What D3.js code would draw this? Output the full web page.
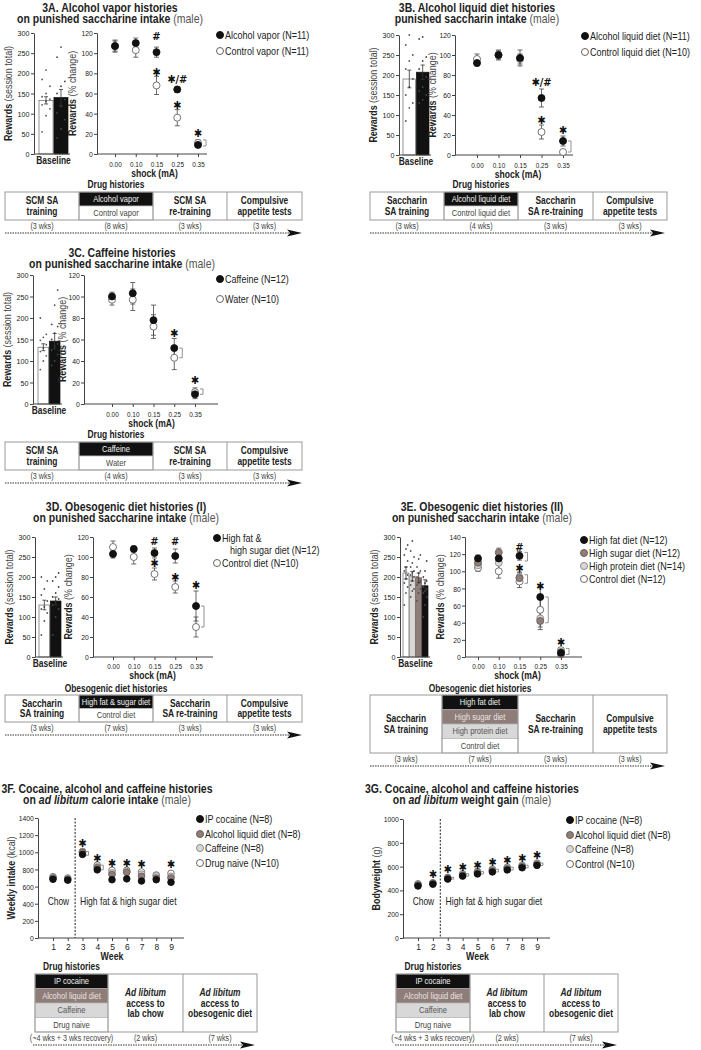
<!DOCTYPE html>
<html>
<head>
<meta charset="utf-8">
<script src="https://cdn.jsdelivr.net/npm/d3@7"></script>
<style>
body { margin: 0; background: #fff; }
text { font-family: "Liberation Sans", Arial, sans-serif; fill: #222; }
</style>
</head>
<body>
<script>
var doses = ["0.00", "0.10", "0.15", "0.25", "0.35"];
var weeks = [1, 2, 3, 4, 5, 6, 7, 8, 9];
var STAR = "\u2731";

// 3A alcohol vapor
var aLegend = ["Alcohol vapor (N=11)", "Control vapor (N=11)"];
var aBase = [133, 140];
var aBaseErr = [9, 20];
var aBaseDots = [[55, 95, 112, 122, 130, 136, 142, 150, 168, 185, 208],
                 [40, 62, 85, 102, 118, 135, 150, 168, 180, 240, 265]];
var aAlcohol = [107, 110, 101, 64, 9];
var aAlcoholErr = [5, 5, 5, 3, 2];
var aControl = [107, 103, 68, 36, 11];
var aControlErr = [6, 7, 9, 8, 3];
var aMarks = [["0.15", 117, "#"], ["0.15", 81, STAR], ["0.25", 74, STAR + "/#"], ["0.25", 49, STAR], ["0.35", 21, STAR]];
var aBrackets = [["0.35", 8, 14]];
var aSteps = [["SCM SA", "training"], ["SCM SA", "re-training"], ["Compulsive", "appetite tests"]];
var aStack = ["Alcohol vapor", "Control vapor"];
var aWeeks = ["(3 wks)", "(8 wks)", "(3 wks)", "(3 wks)"];

// 3B alcohol liquid diet
var bLegend = ["Alcohol liquid diet (N=11)", "Control liquid diet (N=10)"];
var bBase = [190, 207];
var bBaseErr = [22, 18];
var bBaseDots = [[85, 118, 130, 150, 170, 190, 215, 235, 250, 275, 300],
                 [130, 138, 150, 160, 170, 195, 215, 235, 245, 290, 295]];
var bAlcohol = [92, 100, 97, 57, 14];
var bAlcoholErr = [3, 5, 8, 9, 5];
var bControl = [96, 100, 96, 23, 3];
var bControlErr = [5, 4, 5, 7, 2];
var bMarks = [["0.25", 73, STAR + "/#"], ["0.25", 35, STAR], ["0.35", 25, STAR]];
var bBrackets = [["0.35", 3, 14]];
var bSteps = [["Saccharin", "SA training"], ["Saccharin", "SA re-training"], ["Compulsive", "appetite tests"]];
var bStack = ["Alcohol liquid diet", "Control liquid diet"];
var bWeeks = ["(3 wks)", "(4 wks)", "(3 wks)", "(3 wks)"];

// 3C caffeine
var cLegend = ["Caffeine (N=12)", "Water (N=10)"];
var cBase = [132, 146];
var cBaseErr = [8, 18];
var cBaseDots = [[80, 100, 112, 122, 130, 138, 148, 155, 162, 200],
                 [90, 100, 115, 125, 135, 140, 150, 165, 180, 185, 230, 265]];
var cCaffeine = [100, 103, 78, 52, 9];
var cCaffeineErr = [4, 10, 14, 9, 4];
var cWater = [97, 97, 72, 43, 11];
var cWaterErr = [5, 10, 11, 11, 4];
var cMarks = [["0.25", 66, STAR], ["0.35", 22, STAR]];
var cBrackets = [["0.25", 43, 52], ["0.35", 9, 14]];
var cStack = ["Caffeine", "Water"];
var cWeeks = ["(3 wks)", "(4 wks)", "(3 wks)", "(3 wks)"];

// 3D obesogenic diet (I)
var dLegend = ["High fat &\nhigh sugar diet (N=12)", "Control diet (N=10)"];
var dBase = [130, 140];
var dBaseErr = [12, 10];
var dBaseDots = [[55, 90, 110, 120, 125, 140, 155, 170, 190, 200],
                 [55, 100, 120, 130, 140, 145, 150, 160, 175, 190, 200, 210]];
var dHfhs = [103, 108, 104, 101, 51];
var dHfhsErr = [4, 3, 5, 7, 15];
var dControl = [110, 100, 83, 70, 30];
var dControlErr = [6, 7, 6, 6, 10];
var dMarks = [["0.15", 116, "#"], ["0.15", 94, STAR], ["0.25", 116, "#"], ["0.25", 80, STAR], ["0.35", 72, STAR]];
var dBrackets = [["0.35", 30, 51]];
var dStack = ["High fat & sugar diet", "Control diet"];
var dWeeks = ["(3 wks)", "(7 wks)", "(3 wks)", "(3 wks)"];

// 3E obesogenic diet (II)
var eLegend = ["High fat diet (N=12)", "High sugar diet (N=12)", "High protein diet (N=14)", "Control diet (N=12)"];
var eBase = [210, 202, 198, 178];   // control, protein, sugar, fat
var eBaseErr = [15, 12, 12, 15];
var eBaseDots = [[130, 160, 175, 185, 195, 205, 215, 225, 240, 255, 270, 280],
                 [150, 165, 170, 180, 190, 200, 205, 210, 215, 225, 235, 250, 265, 290],
                 [140, 160, 170, 180, 185, 190, 200, 210, 215, 225, 245, 255],
                 [100, 130, 150, 160, 165, 170, 175, 185, 190, 200, 215, 240]];
var eFat = [115, 115, 118, 70, 5];
var eFatErr = [4, 6, 5, 12, 3];
var eSugar = [110, 122, 92, 42, 3];
var eSugarErr = [4, 5, 6, 10, 2];
var eProtein = [107, 110, 93, 45, 6];
var eProteinErr = [4, 8, 6, 10, 3];
var eControl = [104, 100, 88, 55, 8];
var eControlErr = [4, 8, 7, 12, 3];
var eMarks = [["0.15", 128, "#"], ["0.15", 104, STAR], ["0.25", 83, STAR], ["0.35", 17, STAR]];
var eBrackets = [["0.15", 112, 122], ["0.15", 86, 96], ["0.25", 40, 70], ["0.35", 3, 10]];
var eStack = ["High fat diet", "High sugar diet", "High protein diet", "Control diet"];
var eWeeks = ["(3 wks)", "(7 wks)", "(3 wks)", "(3 wks)"];

// 3F calorie intake
var fLegend = ["IP cocaine (N=8)", "Alcohol liquid diet (N=8)", "Caffeine (N=8)", "Drug naive (N=10)"];
var fCocaine = [685, 675, 975, 795, 680, 690, 665, 680, 650];
var fAlcohol = [700, 685, 1000, 820, 740, 765, 720, 700, 700];
var fCaffeine = [710, 690, 1005, 830, 760, 775, 745, 725, 720];
var fNaive = [715, 700, 1010, 850, 790, 790, 770, 735, 755];
var fErr = [20, 20, 25, 22, 20, 20, 20, 18, 20];
var fMarks = [[3, 1110], [4, 930], [5, 880], [6, 880], [7, 860], [9, 860]];
var fBrackets = [[3, 965, 1010], [4, 795, 850]];

// 3G body weight
var gLegend = ["IP cocaine (N=8)", "Alcohol liquid diet (N=8)", "Caffeine (N=8)", "Control (N=10)"];
var gCocaine = [437, 452, 495, 520, 538, 555, 572, 590, 610];
var gAlcohol = [445, 460, 505, 528, 548, 565, 582, 600, 618];
var gCaffeine = [452, 465, 510, 535, 555, 572, 590, 606, 624];
var gControl = [455, 462, 500, 540, 560, 578, 595, 612, 630];
var gErr = [10, 10, 10, 10, 10, 10, 10, 10, 10];
var gMarks = [[2, 535], [3, 580], [4, 600], [5, 610], [6, 635], [7, 655], [8, 675], [9, 695]];
var gBrackets = [[3, 495, 510], [4, 520, 540], [5, 538, 560], [6, 555, 578], [7, 572, 595], [8, 590, 612], [9, 610, 630]];

var fgStack = ["IP cocaine", "Alcohol liquid diet", "Caffeine", "Drug naive"];
var fgSteps = [["Ad libitum", "access to", "lab chow"], ["Ad libitum", "access to", "obesogenic diet"]];
var fgWeeks = ["(~4 wks + 3 wks recovery)", "(2 wks)", "(7 wks)"];

var styles = {
  black: {fill: "#111", stroke: "#111", text: "#f2f2f2"},
  taupe: {fill: "#8e7d78", stroke: "#6e605b", text: "#ece4e2"},
  light: {fill: "#d8d8d8", stroke: "#8a8a8a", text: "#555"},
  open:  {fill: "#fff", stroke: "#666", text: "#444"}
};

var svg = d3.select("body").append("svg")
    .attr("width", 701)
    .attr("height", 1050);

// condensed text: the original uses a narrow face, so squeeze horizontally
function txt(parent, x, y, size, o) {
  o = o || {};
  var tr = "translate(" + x + "," + y + ")" + (o.rotate ? " rotate(-90)" : "") + " scale(" + (o.sx || 0.82) + ",1)";
  return parent.append("text").attr("transform", tr)
      .attr("text-anchor", o.anchor || "middle")
      .style("font-size", size + "px")
      .style("font-weight", o.bold ? "bold" : "normal")
      .style("font-style", o.italic ? "italic" : "normal")
      .style("fill", o.fill || "#222");
}

function styleAxis(g, sx) {
  g.attr("font-family", null).attr("font-size", null);
  g.selectAll("text").style("font-size", "8px").attr("fill", "#333");
  if (sx) g.selectAll("text").attr("transform", "scale(" + sx + ",1)");
  g.selectAll("line").attr("stroke", "#444");
  g.select(".domain").attr("stroke", "#444");
}

function drawTitle(cx, y, line1, line2) {
  txt(svg, cx, y, 12.5, {bold: true, sx: 0.84}).text(line1);
  var t = txt(svg, cx, y + 11, 12.5, {sx: 0.84});
  line2.forEach(function(part) {
    t.append("tspan").text(part[0])
        .style("font-weight", part[1] == "r" ? "normal" : "bold")
        .style("font-style", part[1] == "bi" ? "italic" : "normal")
        .style("fill", part[1] == "r" ? "#555" : "#222");
  });
}

function yTitle(x, cy, bold, rest) {
  var t = txt(svg, x, cy, 10.5, {rotate: true, sx: 0.85});
  t.append("tspan").style("font-weight", "bold").text(bold);
  t.append("tspan").style("fill", "#444").text(rest);
}

function drawLegend(x, ys, labels, keys) {
  labels.forEach(function(lab, i) {
    var st = styles[keys[i]];
    svg.append("circle").attr("cx", x).attr("cy", ys[i]).attr("r", 3.5)
        .attr("fill", st.fill).attr("stroke", st.stroke);
    lab.split("\n").forEach(function(l, j) {
      txt(svg, x + 5 + (j ? 8 : 0), ys[i] + 3.7 + j * 12, 10.5, {anchor: "start", sx: 0.86}).text(l);
    });
  });
}

function errBar(g, cx, y0, y1, w, color) {
  g.append("path")
      .attr("d", "M" + (cx - w) + "," + y1 + "H" + (cx + w) + "M" + cx + "," + y1 + "V" + y0 + "M" + (cx - w) + "," + y0 + "H" + (cx + w))
      .attr("fill", "none").attr("stroke", color).attr("stroke-width", 0.8);
}

function bracket(g, x, y0, y1) {
  g.append("path").attr("d", "M" + (x - 3) + "," + y0 + "H" + x + "V" + y1 + "H" + (x - 3))
      .attr("fill", "none").attr("stroke", "#777").attr("stroke-width", 0.8);
}

function mark(g, x, y, txtv) {
  g.append("text").attr("transform", "translate(" + x + "," + y + ") scale(0.9,1)")
      .attr("text-anchor", "middle")
      .style("font-size", "11px").style("font-weight", "bold")
      .style("font-family", "'DejaVu Sans', sans-serif").style("fill", "#111").text(txtv);
}

function shockPanel(p) {
  drawTitle(p.titleX, p.titleY, p.title1, p.title2);
  var g = svg.append("g");

  // baseline bars
  var yb = d3.scaleLinear().domain([0, 300]).range([p.bottom, p.top]);
  var xb = d3.scaleBand().domain(d3.range(p.base.length)).range(p.barRange).paddingInner(0.06);
  g.selectAll(".bar").data(p.base).enter().append("rect")
      .attr("x", function(d, i) { return xb(i); })
      .attr("y", function(d) { return yb(d); })
      .attr("width", xb.bandwidth())
      .attr("height", function(d) { return yb(0) - yb(d); })
      .attr("fill", function(d, i) { return styles[p.baseStyles[i]].fill; })
      .attr("stroke", function(d, i) { return styles[p.baseStyles[i]].stroke; })
      .attr("stroke-width", 0.7);
  p.baseDots.forEach(function(arr, i) {
    var cx = xb(i) + xb.bandwidth() / 2;
    arr.forEach(function(v, j) {
      g.append("circle").attr("cx", cx + ((j % 3) - 1) * xb.bandwidth() * 0.28).attr("cy", yb(v))
          .attr("r", 0.9).attr("fill", p.baseStyles[i] == "black" ? "#444" : "#555");
    });
  });
  p.base.forEach(function(d, i) {
    errBar(g, xb(i) + xb.bandwidth() / 2, yb(d - p.baseErr[i]), yb(d + p.baseErr[i]), 2, "#333");
  });
  g.append("g").attr("transform", "translate(" + p.barAxis + ",0)")
      .call(d3.axisLeft(yb).tickValues(d3.range(0, 301, 50)).tickSize(3).tickSizeOuter(0).tickPadding(2))
      .call(styleAxis, 0.9);
  g.append("line").attr("x1", p.barAxis).attr("x2", p.barRange[1] + 2)
      .attr("y1", p.bottom).attr("y2", p.bottom).attr("stroke", "#444");
  txt(g, (p.barRange[0] + p.barRange[1]) / 2, p.bottom + 10, 10.5, {bold: true, sx: 0.8}).text("Baseline");
  yTitle(p.barAxis - 22, (p.top + p.bottom) / 2, "Rewards ", "(session total)");

  // shock curve
  var yp = d3.scaleLinear().domain([0, p.ymax]).range([p.bottom, p.top]);
  var xp = d3.scalePoint().domain(doses).range([p.xFirst, p.xLast]);
  g.append("g").attr("transform", "translate(" + p.ptAxis + ",0)")
      .call(d3.axisLeft(yp).tickValues(d3.range(0, p.ymax + 1, 20)).tickSize(3).tickSizeOuter(0).tickPadding(2))
      .call(styleAxis, 0.85);
  var xa = g.append("g").attr("transform", "translate(0," + p.bottom + ")")
      .call(d3.axisBottom(xp).tickSize(3).tickSizeOuter(0).tickPadding(p.tickPad || 4))
      .call(styleAxis, 0.8);
  xa.select(".domain").remove();
  g.append("line").attr("x1", p.ptAxis).attr("x2", p.ptEnd)
      .attr("y1", p.bottom).attr("y2", p.bottom).attr("stroke", "#444");
  txt(g, (p.xFirst + p.xLast) / 2 - 2, p.bottom + (p.shockDy || 23), 11, {bold: true, sx: 0.78}).text("shock (mA)");
  yTitle(p.ptAxis - (p.ptTitleDx || 21), (p.top + p.bottom) / 2, "Rewards ", "(% change)");

  p.brackets.forEach(function(b) { bracket(g, xp(b[0]) + 8, yp(b[1]), yp(b[2])); });
  p.series.forEach(function(s) {
    s.v.forEach(function(v, i) {
      errBar(g, xp(doses[i]), yp(v - s.e[i]), yp(v + s.e[i]), 2.5, "#444");
    });
  });
  p.series.forEach(function(s) {
    var st = styles[s.s];
    g.selectAll(null).data(s.v).enter().append("circle")
        .attr("cx", function(d, i) { return xp(doses[i]); })
        .attr("cy", function(d) { return yp(d); })
        .attr("r", 3.5).attr("fill", st.fill).attr("stroke", st.stroke).attr("stroke-width", 0.9);
  });
  p.marks.forEach(function(m) { mark(g, xp(m[0]), yp(m[1]) + 4, m[2]); });

  drawLegend(p.legX, p.legYs, p.legend, p.legendKeys);
}

function weeklyPanel(p) {
  drawTitle(p.titleX, p.titleY, p.title1, p.title2);
  var g = svg.append("g");
  var y = d3.scaleLinear().domain([0, p.ymax]).range([p.bottom, p.top]);
  var x = d3.scaleLinear().domain([1, 9]).range([p.xFirst, p.xLast]);
  g.append("g").attr("transform", "translate(" + p.axisX + ",0)")
      .call(d3.axisLeft(y).tickValues(d3.range(0, p.ymax + 1, 200)).tickFormat(d3.format("d"))
        .tickSize(3).tickSizeOuter(0).tickPadding(2))
      .call(styleAxis, 0.85);
  var xa = g.append("g").attr("transform", "translate(0," + p.bottom + ")")
      .call(d3.axisBottom(x).tickValues(weeks).tickFormat(d3.format("d")).tickSize(3).tickPadding(3))
      .call(styleAxis);
  xa.select(".domain").remove();
  xa.selectAll("text").style("font-size", "8.5px");
  g.append("line").attr("x1", p.axisX).attr("x2", p.axisEnd)
      .attr("y1", p.bottom).attr("y2", p.bottom).attr("stroke", "#444");
  g.append("line").attr("x1", x(2.5)).attr("x2", x(2.5)).attr("y1", p.top).attr("y2", p.bottom)
      .attr("stroke", "#333").attr("stroke-width", 1.1).attr("stroke-dasharray", "2,1.5");
  txt(g, x(1.5) - 2, p.bottom - 33, 10.5, {sx: 0.8}).text("Chow");
  txt(g, x(6.1), p.bottom - 33, 10.5, {sx: 0.82}).text("High fat & high sugar diet");
  txt(g, x(5), p.bottom + 22, 11, {bold: true, sx: 0.8}).text("Week");
  yTitle(p.axisX - 23, (p.top + p.bottom) / 2, p.yLabel[0], p.yLabel[1]);

  p.brackets.forEach(function(b) { bracket(g, x(b[0]) + 6, y(b[1]), y(b[2])); });
  p.series.forEach(function(s) {
    s.v.forEach(function(v, i) { errBar(g, x(weeks[i]), y(v - p.err[i]), y(v + p.err[i]), 2, "#555"); });
  });
  p.series.slice().reverse().forEach(function(s) {
    var st = styles[s.s];
    g.selectAll(null).data(s.v).enter().append("circle")
        .attr("cx", function(d, i) { return x(weeks[i]); })
        .attr("cy", function(d) { return y(d); })
        .attr("r", 3.3).attr("fill", st.fill).attr("stroke", st.stroke).attr("stroke-width", 0.9);
  });
  p.marks.forEach(function(m) { mark(g, x(m[0]), y(m[1]) + 4, STAR); });

  drawLegend(p.legX, p.legYs, p.legend, ["black", "taupe", "light", "open"]);
}

function timeline(t) {
  var g = svg.append("g");
  var edges = [t.x0].concat(t.divs, [t.x1]);
  var sc = t.stackCol;
  var ys = d3.scaleBand().domain(d3.range(t.stack.length)).range([t.y0, t.y1]);

  txt(g, (edges[sc] + edges[sc + 1]) / 2, t.y0 - (t.labelDy || 4), 10.5, {bold: true, sx: 0.8}).text(t.label);

  t.stack.forEach(function(s, i) {
    var st = styles[t.stackKeys[i]];
    g.append("rect").attr("x", edges[sc]).attr("y", ys(i)).attr("width", edges[sc + 1] - edges[sc])
        .attr("height", ys.bandwidth()).attr("fill", st.fill).attr("stroke", "#aaa").attr("stroke-width", 0.6);
    txt(g, (edges[sc] + edges[sc + 1]) / 2, ys(i) + ys.bandwidth() / 2 + 3.2, 9, {sx: 0.84, fill: st.text}).text(s);
  });

  g.append("rect").attr("x", t.x0).attr("y", t.y0).attr("width", t.x1 - t.x0).attr("height", t.y1 - t.y0)
      .attr("fill", "none").attr("stroke", "#999").attr("stroke-width", 1);
  t.divs.forEach(function(d) {
    g.append("line").attr("x1", d).attr("x2", d).attr("y1", t.y0).attr("y2", t.y1)
        .attr("stroke", "#999").attr("stroke-width", 1);
  });

  var k = 0;
  d3.range(edges.length - 1).forEach(function(c) {
    var cx = (edges[c] + edges[c + 1]) / 2;
    if (c != sc) {
      var lines = t.steps[k++];
      var cy = (t.y0 + t.y1) / 2;
      lines.forEach(function(l, j) {
        txt(g, cx, cy - (lines.length - 1) * 5.2 + j * 10.4 + 3.6, 10.5,
            {bold: true, italic: l == "Ad libitum", sx: 0.8}).text(l);
      });
    }
    txt(g, cx, t.y1 + 8.5, 9, {sx: 0.8, fill: "#444"}).text(t.durations[c]);
  });

  var ay = t.y1 + 13;
  g.append("line").attr("x1", t.ax0).attr("x2", t.ax1 - 10).attr("y1", ay).attr("y2", ay)
      .attr("stroke", "#333").attr("stroke-width", 1).attr("stroke-dasharray", "1.5,1");
  g.append("path")
      .attr("d", "M" + (t.ax1 - 15) + "," + (ay - 3.5) + "L" + t.ax1 + "," + ay + "L" + (t.ax1 - 15) + "," + (ay + 3.5) + "L" + (t.ax1 - 12) + "," + ay + "Z")
      .attr("fill", "#111");
}

// ---- panels
shockPanel({
  titleX: 110, titleY: 12, title1: "3A. Alcohol vapor histories",
  title2: [["on punished saccharine intake", "b"], [" (male)", "r"]],
  top: 33, bottom: 154, barAxis: 34, barRange: [39, 68],
  base: aBase, baseErr: aBaseErr, baseDots: aBaseDots, baseStyles: ["open", "black"],
  ptAxis: 97, ptEnd: 207, xFirst: 115, xLast: 198, ymax: 120,
  series: [{v: aControl, e: aControlErr, s: "open"}, {v: aAlcohol, e: aAlcoholErr, s: "black"}],
  marks: aMarks, brackets: aBrackets,
  legX: 220, legYs: [35, 51], legend: aLegend, legendKeys: ["black", "open"]
});
timeline({x0: 5, x1: 302, y0: 192, y1: 220, divs: [79, 153, 227], stackCol: 1,
  stack: aStack, stackKeys: ["black", "open"], steps: aSteps, durations: aWeeks,
  label: "Drug histories", ax0: 5, ax1: 302});

shockPanel({
  titleX: 477, titleY: 12, title1: "3B. Alcohol liquid diet histories",
  title2: [["punished saccharin intake", "b"], [" (male)", "r"]],
  top: 35, bottom: 155, barAxis: 399, barRange: [403, 429],
  base: bBase, baseErr: bBaseErr, baseDots: bBaseDots, baseStyles: ["open", "black"],
  ptAxis: 455, ptEnd: 573, xFirst: 477, xLast: 563, ymax: 120, ptTitleDx: 19,
  series: [{v: bControl, e: bControlErr, s: "open"}, {v: bAlcohol, e: bAlcoholErr, s: "black"}],
  marks: bMarks, brackets: bBrackets,
  legX: 585, legYs: [36, 52], legend: bLegend, legendKeys: ["black", "open"]
});
timeline({x0: 370, x1: 667, y0: 192, y1: 220, divs: [444, 518, 593], stackCol: 1,
  stack: bStack, stackKeys: ["black", "open"], steps: bSteps, durations: bWeeks,
  label: "Drug histories", ax0: 370, ax1: 665});

shockPanel({
  titleX: 122, titleY: 257, title1: "3C. Caffeine histories",
  title2: [["on punished saccharine intake", "b"], [" (male)", "r"]],
  top: 275, bottom: 404, barAxis: 33, barRange: [38, 60],
  base: cBase, baseErr: cBaseErr, baseDots: cBaseDots, baseStyles: ["open", "black"],
  ptAxis: 84, ptEnd: 218, xFirst: 112, xLast: 195, ymax: 120, ptTitleDx: 18,
  series: [{v: cWater, e: cWaterErr, s: "open"}, {v: cCaffeine, e: cCaffeineErr, s: "black"}],
  marks: cMarks, brackets: cBrackets,
  legX: 220, legYs: [279, 299], legend: cLegend, legendKeys: ["black", "open"]
});
timeline({x0: 5, x1: 302, y0: 442, y1: 470, divs: [79, 153, 227], stackCol: 1,
  stack: cStack, stackKeys: ["black", "open"], steps: aSteps, durations: cWeeks,
  label: "Drug histories", ax0: 5, ax1: 302});

shockPanel({
  titleX: 126, titleY: 511, title1: "3D. Obesogenic diet histories (I)",
  title2: [["on punished saccharine intake", "b"], [" (male)", "r"]],
  top: 537, bottom: 657, barAxis: 35, barRange: [39, 61],
  base: dBase, baseErr: dBaseErr, baseDots: dBaseDots, baseStyles: ["open", "black"],
  ptAxis: 93, ptEnd: 213, xFirst: 113, xLast: 196, ymax: 120, shockDy: 22, tickPad: 3,
  series: [{v: dControl, e: dControlErr, s: "open"}, {v: dHfhs, e: dHfhsErr, s: "black"}],
  marks: dMarks, brackets: dBrackets,
  legX: 217, legYs: [538, 563], legend: dLegend, legendKeys: ["black", "open"]
});
timeline({x0: 5, x1: 302, y0: 695, y1: 722, divs: [79, 153, 227], stackCol: 1,
  stack: dStack, stackKeys: ["black", "open"], steps: bSteps, durations: dWeeks,
  label: "Obesogenic diet histories", labelDy: 3, ax0: 5, ax1: 302});

shockPanel({
  titleX: 482, titleY: 511, title1: "3E. Obesogenic diet histories (II)",
  title2: [["on punished saccharin intake", "b"], [" (male)", "r"]],
  top: 537, bottom: 657, barAxis: 400, barRange: [403, 428],
  base: eBase, baseErr: eBaseErr, baseDots: eBaseDots, baseStyles: ["open", "light", "taupe", "black"],
  ptAxis: 465, ptEnd: 582, xFirst: 478, xLast: 561, ymax: 140, shockDy: 22, tickPad: 3,
  series: [{v: eControl, e: eControlErr, s: "open"}, {v: eProtein, e: eProteinErr, s: "light"},
           {v: eSugar, e: eSugarErr, s: "taupe"}, {v: eFat, e: eFatErr, s: "black"}],
  marks: eMarks, brackets: eBrackets,
  legX: 584, legYs: [540, 553, 566, 579], legend: eLegend, legendKeys: ["black", "taupe", "light", "open"]
});
timeline({x0: 370, x1: 667, y0: 695, y1: 753, divs: [442, 518, 593], stackCol: 1,
  stack: eStack, stackKeys: ["black", "taupe", "light", "open"], steps: bSteps, durations: eWeeks,
  label: "Obesogenic diet histories", labelDy: 3, ax0: 370, ax1: 665});

weeklyPanel({
  titleX: 107, titleY: 793, title1: "3F. Cocaine, alcohol and caffeine histories",
  title2: [["on ", "b"], ["ad libitum", "bi"], [" calorie intake", "b"], [" (male)", "r"]],
  top: 818, bottom: 938, axisX: 38, axisEnd: 184, xFirst: 53, xLast: 171, ymax: 1400,
  yLabel: ["Weekly intake ", "(kcal)"],
  series: [{v: fCocaine, s: "black"}, {v: fAlcohol, s: "taupe"}, {v: fCaffeine, s: "light"}, {v: fNaive, s: "open"}],
  err: fErr, marks: fMarks, brackets: fBrackets,
  legX: 200, legYs: [819, 834, 848, 863], legend: fLegend
});
timeline({x0: 35, x1: 257, y0: 974, y1: 1032, divs: [108, 183], stackCol: 0,
  stack: fgStack, stackKeys: ["black", "taupe", "light", "open"], steps: fgSteps, durations: fgWeeks,
  label: "Drug histories", ax0: 33, ax1: 255});

weeklyPanel({
  titleX: 472, titleY: 793, title1: "3G. Cocaine, alcohol and caffeine histories",
  title2: [["on ", "b"], ["ad libitum", "bi"], [" weight gain", "b"], [" (male)", "r"]],
  top: 819, bottom: 938, axisX: 403, axisEnd: 550, xFirst: 418, xLast: 537, ymax: 1000,
  yLabel: ["Bodyweight ", "(g)"],
  series: [{v: gCocaine, s: "black"}, {v: gAlcohol, s: "taupe"}, {v: gCaffeine, s: "light"}, {v: gControl, s: "open"}],
  err: gErr, marks: gMarks, brackets: gBrackets,
  legX: 570, legYs: [820, 835, 849, 864], legend: gLegend
});
timeline({x0: 396, x1: 618, y0: 974, y1: 1032, divs: [470, 544], stackCol: 0,
  stack: fgStack, stackKeys: ["black", "taupe", "light", "open"], steps: fgSteps, durations: fgWeeks,
  label: "Drug histories", ax0: 395, ax1: 617});
</script>
</body>
</html>
